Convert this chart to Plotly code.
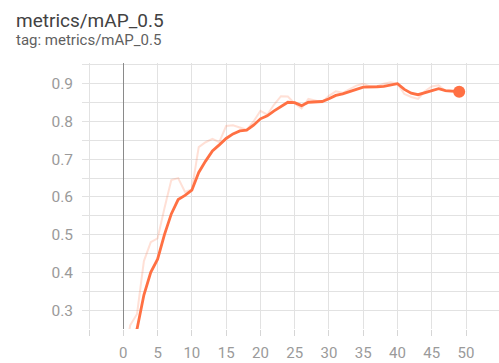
import plotly.graph_objects as go

epochs = list(range(50))
raw_map = [0.15, 0.26, 0.29, 0.43, 0.48, 0.49, 0.57, 0.645, 0.65, 0.613,
           0.62, 0.732, 0.745, 0.754, 0.745, 0.788, 0.79, 0.785, 0.778, 0.80,
           0.828, 0.818, 0.845, 0.867, 0.866, 0.848, 0.835, 0.86, 0.855, 0.851,
           0.868, 0.88, 0.876, 0.885, 0.895, 0.9, 0.893, 0.893, 0.9, 0.904,
           0.9, 0.873, 0.865, 0.86, 0.88, 0.893, 0.896, 0.88, 0.878, 0.878]
smooth_map = [0.12, 0.19, 0.25, 0.34, 0.40, 0.435, 0.50, 0.555, 0.593, 0.604,
              0.618, 0.665, 0.695, 0.722, 0.738, 0.755, 0.767, 0.775, 0.777, 0.79,
              0.807, 0.815, 0.828, 0.84, 0.851, 0.85, 0.842, 0.851, 0.853, 0.853,
              0.86, 0.869, 0.873, 0.878, 0.885, 0.891, 0.891, 0.892, 0.893, 0.897,
              0.9, 0.885, 0.875, 0.871, 0.876, 0.882, 0.887, 0.882, 0.88, 0.879]

x_ticks = [-5, 0, 5, 10, 15, 20, 25, 30, 35, 40, 45, 50]
x_labels = ["", "0", "5", "10", "15", "20", "25", "30", "35", "40", "45", "50"]
y_ticks = [0.25, 0.3, 0.35, 0.4, 0.45, 0.5, 0.55, 0.6, 0.65, 0.7, 0.75, 0.8, 0.85, 0.9, 0.95]
y_labels = ["", "0.3", "", "0.4", "", "0.5", "", "0.6", "", "0.7", "", "0.8", "", "0.9", ""]

color = "#ff7043"

fig = go.Figure()
fig.add_trace(go.Scatter(x=epochs, y=raw_map, mode="lines",
                         line=dict(color="rgba(255,112,67,0.22)", width=2),
                         hoverinfo="skip", showlegend=False))
fig.add_trace(go.Scatter(x=epochs, y=smooth_map, mode="lines",
                         line=dict(color=color, width=2.8),
                         showlegend=False))
fig.add_trace(go.Scatter(x=[epochs[-1]], y=[smooth_map[-1]], mode="markers",
                         marker=dict(color=color, size=12),
                         showlegend=False, cliponaxis=False))

font = "Roboto, 'Noto Sans', sans-serif"
fig.update_layout(
    width=499, height=363,
    margin=dict(l=82, r=0, t=63, b=34, autoexpand=False),
    paper_bgcolor="white", plot_bgcolor="white",
    font=dict(family=font),
    xaxis=dict(range=[-6.03, 54.81], tickvals=x_ticks, ticktext=x_labels,
               showgrid=True, gridcolor="#e2e2e2", gridwidth=1,
               zeroline=True, zerolinecolor="#8a8a8a", zerolinewidth=1,
               ticks="outside", ticklen=6, tickcolor="#d6d6d6",
               tickfont=dict(size=15, color="#9a9a9a"),
               ticklabelstandoff=4, showline=False, fixedrange=True,
               automargin=False),
    yaxis=dict(range=[0.25, 0.955], tickvals=y_ticks, ticktext=y_labels,
               showgrid=True, gridcolor="#e2e2e2", gridwidth=1,
               zeroline=False, ticks="",
               tickfont=dict(size=15.5, color="#9a9a9a"),
               ticklabelstandoff=8, showline=False, fixedrange=True,
               automargin=False),
    annotations=[
        dict(text="metrics/mAP_0.5", xref="paper", yref="paper",
             x=(14 - 82) / 417, y=(329 - 21) / 266, xanchor="left", yanchor="middle",
             showarrow=False, font=dict(size=19, color="#424242")),
        dict(text="tag: metrics/mAP_0.5", xref="paper", yref="paper",
             x=(14 - 82) / 417, y=(329 - 40) / 266, xanchor="left", yanchor="middle",
             showarrow=False, font=dict(size=15, color="#5f5f5f")),
    ],
)

fig.write_html("out.html", config={"displayModeBar": False},
               post_script="document.body.style.margin='0';document.body.style.overflow='hidden';")
